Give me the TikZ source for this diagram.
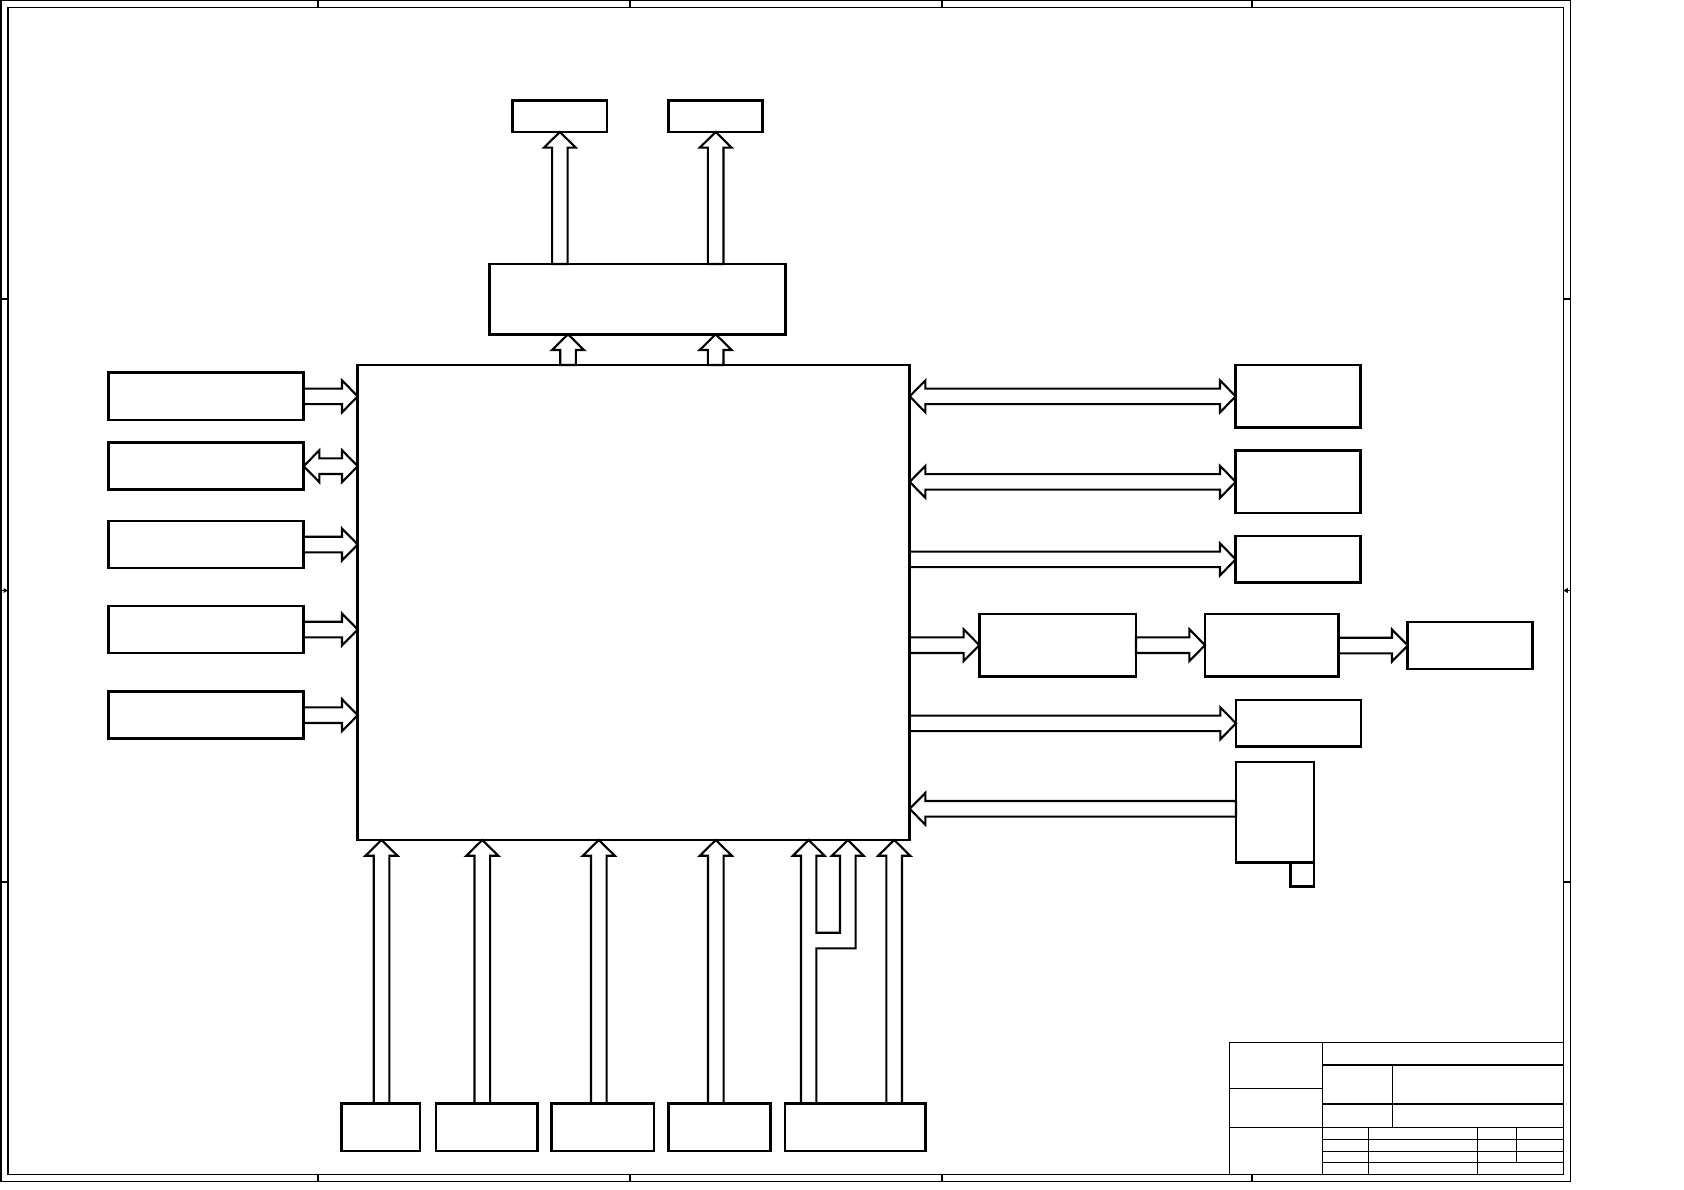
\documentclass[tikz,border=0pt]{standalone}
\usetikzlibrary{calc}
\tikzset{
  blk/.style={draw, line width=2.5pt, inner sep=0pt, outer sep=0pt, rectangle},
  barrow/.style={draw, line width=2.1pt, line join=miter},
  frame/.style={draw, line width=1.3pt},
  tline/.style={draw, line width=1.3pt},
}
\newcommand\bahw{7.8pt}
\newcommand\bahh{16pt}
\newcommand\bahl{15.7pt}
% box: name, x1, y1, x2, y2
\newcommand\blkbox[5]{%
  \node[blk, minimum width={(#4-#2)*1pt}, minimum height={(#5-#3)*1pt}, anchor=north west] (#1) at (#2,#3) {};}
% single block arrow from #1 to #2
\newcommand\sarrow[2]{%
  \coordinate (ta) at (#1); \coordinate (tb) at (#2);
  \coordinate (tp) at ($(tb)!\bahl!(ta)$);
  \draw[barrow] ($(ta)!\bahw!90:(tb)$) -- ($(tp)!\bahw!-90:(ta)$) -- ($(tp)!\bahh!-90:(ta)$) -- (tb)
     -- ($(tp)!\bahh!90:(ta)$) -- ($(tp)!\bahw!90:(ta)$) -- ($(ta)!\bahw!-90:(tb)$) -- cycle;}
% double block arrow between #1 and #2
\newcommand\darrow[2]{%
  \coordinate (ta) at (#1); \coordinate (tb) at (#2);
  \coordinate (tp) at ($(tb)!\bahl!(ta)$);
  \coordinate (tq) at ($(ta)!\bahl!(tb)$);
  \draw[barrow] (ta) -- ($(tq)!\bahh!90:(tb)$) -- ($(tq)!\bahw!90:(tb)$) -- ($(tp)!\bahw!-90:(ta)$)
     -- ($(tp)!\bahh!-90:(ta)$) -- (tb) -- ($(tp)!\bahh!90:(ta)$) -- ($(tp)!\bahw!90:(ta)$)
     -- ($(tq)!\bahw!-90:(tb)$) -- ($(tq)!\bahh!-90:(tb)$) -- cycle;}
\begin{document}
\begin{tikzpicture}[x=1pt, y=-1pt]
\fill[white] (0,0) rectangle (1684,1190);
\useasboundingbox (0,0) rectangle (1684,1190);
% drawing frame
\draw[frame] (1,0.8) rectangle (1570.5,1181.5);
\draw[frame] (8,7.3) rectangle (1563.3,1174.3);
\foreach \x in {318,630,942,1252} {
  \draw[frame] (\x,0.8) -- (\x,7.3);
  \draw[frame] (\x,1174.3) -- (\x,1181.5);
}
\foreach \y in {299,590.5,882} {
  \draw[frame] (1,\y) -- (8,\y);
  \draw[frame] (1563.3,\y) -- (1570.5,\y);
}
\fill (8,590.5) -- (3.5,588) -- (3.5,593) -- cycle;
\fill (1563.3,590.5) -- (1567.8,588) -- (1567.8,593) -- cycle;
% title block
\draw[tline] (1229.3,1174.3) -- (1229.3,1042.3) -- (1563.3,1042.3);
\draw[tline] (1322.3,1042.3) -- (1322.3,1174.3);
\draw[tline] (1229.3,1088.3) -- (1322.3,1088.3);
\draw[tline] (1229.3,1127.3) -- (1563.3,1127.3);
\draw[tline] (1322.3,1065) -- (1563.3,1065);
\draw[tline] (1322.3,1104) -- (1563.3,1104);
\draw[tline] (1392.3,1065) -- (1392.3,1127.3);
\draw[tline] (1322.3,1139.3) -- (1563.3,1139.3);
\draw[tline] (1322.3,1151.3) -- (1563.3,1151.3);
\draw[tline] (1322.3,1162.3) -- (1563.3,1162.3);
\draw[tline] (1368.3,1127.3) -- (1368.3,1174.3);
\draw[tline] (1477.3,1127.3) -- (1477.3,1174.3);
\draw[tline] (1516.3,1127.3) -- (1516.3,1162.3);
% blocks
\blkbox{tl}{512.7}{100.7}{607}{132}
\blkbox{tr}{668.7}{100.7}{762.7}{132}
\blkbox{mid}{489.3}{264}{785.7}{334.3}
\blkbox{main}{357.7}{365}{909.7}{840}
\blkbox{l1}{108.3}{372.7}{303.7}{420}
\blkbox{l2}{108.3}{442.7}{303.7}{489.7}
\blkbox{l3}{108.3}{521}{303.7}{568}
\blkbox{l4}{108.3}{606}{303.7}{653}
\blkbox{l5}{108.3}{691.7}{303.7}{738.7}
\blkbox{r1}{1235.7}{365}{1360.7}{427.7}
\blkbox{r2}{1235.7}{450.7}{1360.7}{513}
\blkbox{r3}{1235.7}{536}{1360.7}{582.7}
\blkbox{ma}{979.3}{614}{1136}{676.3}
\blkbox{mb}{1205}{614}{1338.3}{676.3}
\blkbox{far}{1407.7}{622}{1532.3}{669}
\blkbox{r5}{1236}{700}{1361}{746.7}
\blkbox{tall}{1236}{762}{1314}{862.7}
\blkbox{sq}{1290.7}{862.7}{1314}{886.7}
\blkbox{b1}{341.7}{1103.7}{420}{1151}
\blkbox{b2}{436}{1103.7}{537.3}{1151}
\blkbox{b3}{551.7}{1103.7}{654}{1151}
\blkbox{b4}{668.7}{1103.7}{770.3}{1151}
\blkbox{b5}{785}{1103.7}{925.7}{1151}
% helper coordinates
\coordinate (m1) at (568,0);
\coordinate (ax1) at (381.5,0);
\coordinate (ax2) at (482.3,0);
\coordinate (ax3) at (598.8,0);
\coordinate (ax4) at (715.8,0);
\coordinate (ax7) at (894.2,0);
\coordinate (tc) at (0,808.8);
% top arrows
\sarrow{tl.south |- mid.north}{tl.south}
\sarrow{tr.south |- mid.north}{tr.south}
\sarrow{main.north -| m1}{mid.south -| m1}
\sarrow{main.north -| tr.south}{mid.south -| tr.south}
% left arrows
\sarrow{l1.east}{main.west |- l1.east}
\darrow{l2.east}{main.west |- l2.east}
\sarrow{l3.east}{main.west |- l3.east}
\sarrow{l4.east}{main.west |- l4.east}
\sarrow{l5.east}{main.west |- l5.east}
% right arrows
\darrow{main.east |- r1.west}{r1.west}
\darrow{main.east |- r2.west}{r2.west}
\sarrow{main.east |- r3.west}{r3.west}
\sarrow{main.east |- ma.west}{ma.west}
\sarrow{ma.east}{mb.west |- ma.east}
\sarrow{mb.east |- far.west}{far.west}
\sarrow{main.east |- r5.west}{r5.west}
\sarrow{tall.west |- tc}{main.east |- tc}
% bottom arrows
\sarrow{b1.north -| ax1}{main.south -| ax1}
\sarrow{b2.north -| ax2}{main.south -| ax2}
\sarrow{b3.north -| ax3}{main.south -| ax3}
\sarrow{b4.north -| ax4}{main.south -| ax4}
\sarrow{b5.north -| ax7}{main.south -| ax7}
% merged arrow from b5
\draw[barrow] (801,1103.7) -- (801,855.7) -- (792.9,855.7) -- (808.7,840) -- (824.5,855.7) -- (816.4,855.7)
  -- (816.4,932.7) -- (840,932.7) -- (840,855.7) -- (832,855.7) -- (847.8,840) -- (863.6,855.7)
  -- (855.6,855.7) -- (855.6,948.3) -- (816.4,948.3) -- (816.4,1103.7);
\end{tikzpicture}
\end{document}
